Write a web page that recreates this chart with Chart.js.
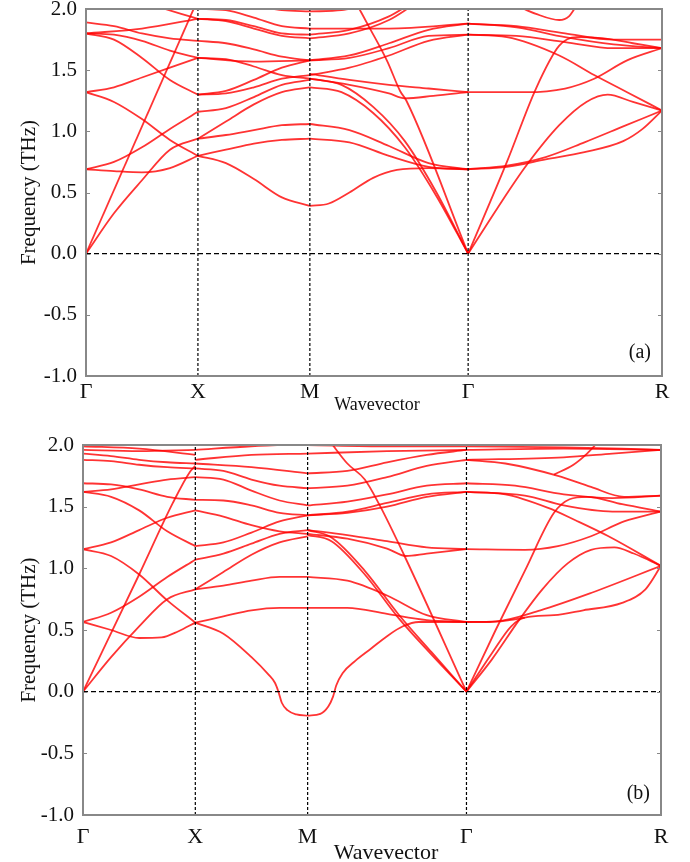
<!DOCTYPE html>
<html>
<head>
<meta charset="utf-8">
<script src="https://cdn.jsdelivr.net/npm/chart.js@4.4.1/dist/chart.umd.min.js"></script>
<style>
  html, body { margin: 0; padding: 0; background: #fff; }
  #wrap { position: relative; width: 690px; height: 862px; overflow: hidden; }
  canvas { position: absolute; left: 0; }
  #ca { top: -13px; }
  #cb { top: 423px; }
</style>
</head>
<body>
<div id="wrap">
  <canvas id="ca" width="690" height="444"></canvas>
  <canvas id="cb" width="690" height="443"></canvas>
</div>
<script>
// High-symmetry path of the cubic cell: Γ-X-M-Γ-R, segment lengths in 2π/a.
const kLabels = ['Γ', 'X', 'M', 'Γ', 'R'];
const segLen = [0.5, 0.5, 0.7071, 0.8660];
const yTicks = [-1.0, -0.5, 0.0, 0.5, 1.0, 1.5, 2.0];
const xTitle = 'Wavevector';
const yTitle = 'Frequency (THz)';

// Bands, one list per path segment. Each curve is [t, THz] with t the
// fraction along the segment (0 = segment start, 1 = segment end).
const bandsA_GX = [
  [[0, 0], [1, 2.08]],
  [[0, 0], [0.25, 0.33], [0.5, 0.6], [0.75, 0.85], [1, 0.94]],
  [[0, 0.69], [0.25, 0.675], [0.5, 0.665], [0.75, 0.7], [1, 0.8]],
  [[0, 0.69], [0.25, 0.75], [0.5, 0.87], [0.75, 1.02], [1, 1.16]],
  [[0, 1.32], [0.25, 1.24], [0.5, 1.1], [0.75, 0.93], [1, 0.8]],
  [[0, 1.32], [0.25, 1.36], [0.5, 1.44], [0.75, 1.52], [1, 1.6]],
  [[0, 1.8], [0.25, 1.75], [0.5, 1.6], [0.75, 1.42], [1, 1.3]],
  [[0, 1.8], [0.5, 1.84], [1, 1.92]],
  [[0, 1.89], [0.25, 1.86], [0.5, 1.8], [0.75, 1.76], [1, 1.74]],
  [[0, 1.8], [0.25, 1.79], [0.5, 1.74], [0.75, 1.66], [1, 1.6]],
  [[0.6, 2.03], [0.85, 1.96], [1, 1.92]],
];
const bandsA_XM = [
  [[0, 0.8], [0.25, 0.74], [0.5, 0.61], [0.75, 0.46], [1, 0.39]],
  [[0, 0.8], [0.25, 0.85], [0.5, 0.9], [0.75, 0.93], [1, 0.94]],
  [[0, 0.94], [0.25, 0.97], [0.5, 1.01], [0.75, 1.05], [1, 1.06]],
  [[0, 0.94], [0.25, 1.08], [0.5, 1.22], [0.75, 1.32], [1, 1.36]],
  [[0, 1.16], [0.25, 1.19], [0.5, 1.28], [0.75, 1.38], [1, 1.42]],
  [[0, 1.3], [0.25, 1.33], [0.5, 1.42], [0.75, 1.52], [1, 1.58]],
  [[0, 1.3], [0.25, 1.31], [0.5, 1.36], [0.75, 1.43], [1, 1.46]],
  [[0, 1.6], [0.25, 1.59], [0.5, 1.53], [0.75, 1.46], [1, 1.43]],
  [[0, 1.6], [0.5, 1.57], [1, 1.58]],
  [[0, 1.74], [0.25, 1.72], [0.5, 1.67], [0.75, 1.61], [1, 1.58]],
  [[0, 1.92], [0.25, 1.91], [0.5, 1.86], [0.75, 1.8], [1, 1.79]],
  [[0, 1.92], [0.25, 1.9], [0.5, 1.84], [0.75, 1.78], [1, 1.76]],
  [[0, 2.0], [0.25, 1.99], [0.5, 1.93], [0.75, 1.86], [1, 1.84]],
  [[0.5, 2.03], [0.75, 1.99], [1, 1.98]],
];
const bandsA_MG = [
  [[0, 0.39], [0.12, 0.41], [0.25, 0.5], [0.4, 0.62], [0.55, 0.685], [0.75, 0.7], [1, 0.69]],
  [[0, 0.94], [0.25, 0.91], [0.5, 0.8], [0.75, 0.71], [1, 0.69]],
  [[0, 1.06], [0.25, 1.01], [0.5, 0.88], [0.75, 0.74], [1, 0.69]],
  [[0, 1.43], [0.2, 1.38], [0.4, 1.2], [0.6, 0.92], [0.8, 0.5], [1, 0]],
  [[0, 1.36], [0.2, 1.32], [0.4, 1.15], [0.6, 0.87], [0.8, 0.47], [1, 0]],
  [[0.3, 2.03], [0.38, 1.84], [0.49, 1.57], [0.57, 1.33], [0.61, 1.25], [1, 0]],
  [[0, 1.47], [0.25, 1.42], [0.5, 1.38], [0.75, 1.35], [1, 1.32]],
  [[0, 1.43], [0.25, 1.38], [0.5, 1.31], [0.6, 1.27], [0.78, 1.29], [1, 1.32]],
  [[0, 1.58], [0.25, 1.6], [0.5, 1.68], [0.75, 1.78], [1, 1.79]],
  [[0, 1.58], [0.25, 1.62], [0.5, 1.72], [0.75, 1.83], [1, 1.88]],
  [[0, 1.46], [0.25, 1.52], [0.5, 1.62], [0.75, 1.74], [1, 1.79]],
  [[0, 1.84], [0.5, 1.84], [1, 1.88]],
  [[0, 1.79], [0.25, 1.83], [0.5, 1.94], [0.62, 2.03]],
  [[0, 1.76], [0.25, 1.8], [0.5, 1.91], [0.65, 2.03]],
  [[0, 1.98], [0.2, 1.99], [0.35, 2.03]],
];
const bandsA_GR = [
  [[0, 0], [0.2, 0.75], [0.35, 1.35], [0.47, 1.7], [0.56, 1.77], [0.7, 1.76], [0.85, 1.72], [1, 1.68]],
  [[0, 0], [0.15, 0.37], [0.3, 0.72], [0.47, 1.05], [0.61, 1.24], [0.72, 1.3], [0.85, 1.24], [1, 1.17]],
  [[0, 0.69], [0.2, 0.72], [0.4, 0.79], [0.6, 0.91], [0.8, 1.04], [1, 1.17]],
  [[0, 0.69], [0.2, 0.71], [0.4, 0.77], [0.6, 0.83], [0.8, 0.92], [0.9, 1.02], [1, 1.17]],
  [[0, 1.32], [0.3, 1.32], [0.5, 1.35], [0.65, 1.43], [0.82, 1.58], [1, 1.68]],
  [[0, 1.79], [0.2, 1.77], [0.47, 1.62], [0.65, 1.46], [0.82, 1.32], [1, 1.17]],
  [[0, 1.79], [0.25, 1.78], [0.5, 1.73], [0.75, 1.68], [1, 1.68]],
  [[0, 1.88], [0.25, 1.86], [0.5, 1.8], [0.75, 1.75], [1, 1.75]],
  [[0, 1.88], [0.25, 1.85], [0.5, 1.77], [0.75, 1.71], [1, 1.68]],
  [[0.25, 2.03], [0.35, 1.96], [0.47, 1.91], [0.52, 1.94], [0.56, 2.03]],
];

const bandsB_GX = [
  [[0, 0], [0.5, 0.95], [0.8, 1.53], [0.95, 1.78], [1, 1.83]],
  [[0, 0], [0.25, 0.28], [0.5, 0.53], [0.75, 0.75], [1, 0.83]],
  [[0, 0.565], [0.25, 0.64], [0.5, 0.77], [0.75, 0.93], [1, 1.07]],
  [[0, 0.565], [0.25, 0.5], [0.5, 0.435], [0.7, 0.44], [0.85, 0.49], [1, 0.56]],
  [[0, 1.155], [0.25, 1.1], [0.5, 0.95], [0.75, 0.74], [1, 0.56]],
  [[0, 1.155], [0.25, 1.21], [0.5, 1.31], [0.75, 1.41], [1, 1.47]],
  [[0, 1.62], [0.25, 1.58], [0.5, 1.47], [0.75, 1.3], [1, 1.18]],
  [[0, 1.69], [0.25, 1.68], [0.5, 1.64], [0.75, 1.58], [1, 1.555]],
  [[0, 1.62], [0.25, 1.64], [0.5, 1.68], [0.75, 1.72], [1, 1.74]],
  [[0, 1.88], [0.25, 1.87], [0.5, 1.84], [0.75, 1.82], [1, 1.81]],
  [[0, 1.93], [0.25, 1.91], [0.5, 1.88], [0.75, 1.86], [1, 1.85]],
  [[0, 1.96], [0.5, 1.95], [1, 1.96]],
  [[0, 1.99], [0.5, 1.97], [1, 1.92]],
];
const bandsB_XM = [
  [[0, 0.56], [0.25, 0.47], [0.5, 0.28], [0.65, 0.14], [0.71, 0.07], [0.74, 0], [0.77, -0.09], [0.82, -0.15], [0.9, -0.185], [1, -0.195]],
  [[0, 0.56], [0.25, 0.61], [0.5, 0.66], [0.75, 0.68], [1, 0.68]],
  [[0, 0.83], [0.25, 0.86], [0.5, 0.9], [0.75, 0.93], [1, 0.93]],
  [[0, 0.83], [0.25, 0.97], [0.5, 1.11], [0.75, 1.21], [1, 1.26]],
  [[0, 1.07], [0.25, 1.12], [0.5, 1.2], [0.75, 1.28], [1, 1.31]],
  [[0, 1.18], [0.25, 1.21], [0.5, 1.29], [0.75, 1.38], [1, 1.43]],
  [[0, 1.47], [0.25, 1.42], [0.5, 1.35], [0.75, 1.3], [1, 1.28]],
  [[0, 1.555], [0.25, 1.55], [0.5, 1.51], [0.75, 1.45], [1, 1.43]],
  [[0, 1.74], [0.25, 1.72], [0.5, 1.63], [0.75, 1.55], [1, 1.51]],
  [[0, 1.81], [0.25, 1.79], [0.5, 1.72], [0.75, 1.67], [1, 1.65]],
  [[0, 1.85], [0.5, 1.82], [1, 1.77]],
  [[0, 1.88], [0.5, 1.92], [1, 1.93]],
  [[0, 1.96], [0.5, 1.99], [1, 2.01]],
];
const bandsB_MG = [
  [[0, -0.195], [0.08, -0.18], [0.13, -0.12], [0.16, -0.04], [0.18, 0.05], [0.22, 0.15], [0.3, 0.25], [0.4, 0.35], [0.5, 0.45], [0.6, 0.53], [0.7, 0.565], [1, 0.565]],
  [[0, 0.68], [0.25, 0.68], [0.5, 0.63], [0.75, 0.58], [1, 0.565]],
  [[0, 0.93], [0.25, 0.9], [0.5, 0.78], [0.75, 0.62], [1, 0.565]],
  [[0, 1.31], [0.15, 1.25], [0.36, 0.98], [0.57, 0.63], [0.78, 0.32], [1, 0]],
  [[0, 1.27], [0.15, 1.22], [0.36, 0.95], [0.57, 0.6], [0.78, 0.3], [1, 0]],
  [[0.14, 2.03], [0.25, 1.85], [0.36, 1.72], [0.45, 1.52], [0.61, 1.1], [1, 0]],
  [[0, 1.31], [0.25, 1.27], [0.5, 1.22], [0.75, 1.17], [1, 1.155]],
  [[0, 1.28], [0.25, 1.24], [0.5, 1.16], [0.62, 1.1], [0.75, 1.12], [1, 1.155]],
  [[0, 1.51], [0.25, 1.54], [0.5, 1.6], [0.75, 1.67], [1, 1.69]],
  [[0, 1.43], [0.25, 1.46], [0.5, 1.53], [0.75, 1.6], [1, 1.62]],
  [[0, 1.43], [0.25, 1.45], [0.5, 1.5], [0.75, 1.58], [1, 1.62]],
  [[0, 1.65], [0.25, 1.67], [0.5, 1.74], [0.75, 1.83], [1, 1.88]],
  [[0, 1.77], [0.25, 1.79], [0.5, 1.86], [0.75, 1.92], [1, 1.96]],
  [[0, 1.93], [0.5, 1.95], [1, 1.96]],
  [[0, 2.0], [0.5, 1.99], [1, 1.99]],
];
const bandsB_GR = [
  [[0, 0], [0.15, 0.5], [0.3, 0.98], [0.45, 1.45], [0.53, 1.56], [0.62, 1.58], [0.8, 1.52], [1, 1.46]],
  [[0, 0], [0.13, 0.26], [0.27, 0.58], [0.39, 0.83], [0.52, 1.04], [0.64, 1.15], [0.76, 1.17], [0.86, 1.12], [1, 1.02]],
  [[0, 0], [0.13, 0.31], [0.23, 0.53], [0.3, 0.6], [0.45, 0.62], [0.6, 0.66], [0.8, 0.72], [0.92, 0.83], [1, 1.02]],
  [[0, 0.565], [0.15, 0.57], [0.38, 0.66], [0.64, 0.8], [1, 1.02]],
  [[0, 0.565], [0.12, 0.565], [0.22, 0.58], [0.3, 0.6]],
  [[0, 1.155], [0.3, 1.15], [0.47, 1.18], [0.64, 1.26], [0.81, 1.38], [1, 1.46]],
  [[0, 1.62], [0.2, 1.6], [0.42, 1.49], [0.56, 1.39], [0.73, 1.26], [1, 1.02]],
  [[0, 1.62], [0.3, 1.59], [0.5, 1.51], [0.75, 1.46], [1, 1.46]],
  [[0, 1.69], [0.25, 1.67], [0.5, 1.6], [0.75, 1.57], [1, 1.59]],
  [[0, 1.88], [0.2, 1.85], [0.47, 1.75], [0.64, 1.66], [0.81, 1.58], [1, 1.59]],
  [[0, 1.88], [0.5, 1.9], [0.75, 1.93], [1, 1.96]],
  [[0, 1.96], [0.5, 1.97], [1, 1.96]],
  [[0.45, 1.76], [0.55, 1.84], [0.62, 1.93], [0.68, 2.03]],
  [[0, 1.99], [0.5, 1.98], [0.8, 1.97], [1, 1.96]],
];

const kNodes = segLen.reduce((acc, l) => { acc.push(acc[acc.length - 1] + l); return acc; }, [0]);
const SERIF = '"Liberation Serif", "Times New Roman", serif';
const RED = 'rgba(255,0,0,0.8)';

// Gray box round the plot, short inward ticks on both sides, the panel tag
// and the x title (which sits a little right of the plot centre in the figure).
const framePlugin = {
  id: 'frame',
  afterDraw(chart, args, opts) {
    const { ctx, chartArea: a } = chart;
    const y = chart.scales.y;
    ctx.save();
    ctx.strokeStyle = '#888';
    ctx.lineWidth = 2;
    ctx.strokeRect(a.left, a.top, a.right - a.left, a.bottom - a.top);
    ctx.lineWidth = 1;
    ctx.beginPath();
    yTicks.slice(1, -1).forEach((v) => {
      const py = Math.round(y.getPixelForValue(v)) + 0.5;
      ctx.moveTo(a.left, py); ctx.lineTo(a.left + 4, py);
      ctx.moveTo(a.right - 4, py); ctx.lineTo(a.right, py);
    });
    ctx.stroke();
    ctx.fillStyle = '#111';
    ctx.font = '20px ' + SERIF;
    ctx.textAlign = 'right';
    ctx.textBaseline = 'bottom';
    ctx.fillText(opts.tag, a.right - 11, a.bottom - opts.tagLift);
    ctx.font = opts.titleSize + 'px ' + SERIF;
    ctx.textAlign = 'center';
    ctx.textBaseline = 'middle';
    ctx.fillText(xTitle, opts.titleX, opts.titleY);
    ctx.restore();
  },
};

function refLine(points, dash) {
  return {
    data: points, borderColor: '#000', borderWidth: 1.2, borderDash: dash,
    pointRadius: 0, showLine: true, fill: false, order: 0,
  };
}

function buildDatasets(segments) {
  const ds = [];
  kNodes.slice(1, 4).forEach((x) => ds.push(refLine([{ x, y: -1 }, { x, y: 2 }], [3, 2])));
  ds.push(refLine([{ x: 0, y: 0 }, { x: kNodes[4], y: 0 }], [5, 3]));
  segments.forEach((seg, s) => {
    const x0 = kNodes[s], len = segLen[s];
    seg.forEach((curve) => ds.push({
      data: curve.map(([t, f]) => ({ x: x0 + t * len, y: f })),
      borderColor: RED, borderWidth: 1.8, pointRadius: 0, showLine: true,
      cubicInterpolationMode: 'monotone', fill: false, order: 1,
    }));
  });
  return ds;
}

function drawPanel(canvasId, segments, tag, box) {
  new Chart(document.getElementById(canvasId), {
    type: 'scatter',
    data: { datasets: buildDatasets(segments) },
    plugins: [framePlugin],
    options: {
      responsive: false, animation: false, events: [],
      layout: { padding: { top: 22, right: box.right, left: 0, bottom: 0 } },
      plugins: {
        legend: { display: false }, tooltip: { enabled: false },
        frame: { tag, tagLift: box.tagLift, titleSize: box.titleSize, titleX: box.titleX, titleY: box.titleY },
      },
      scales: {
        x: {
          type: 'linear', min: 0, max: kNodes[4],
          grid: { display: false, drawTicks: false }, border: { display: false },
          afterBuildTicks: (s) => { s.ticks = kNodes.map((value) => ({ value })); },
          afterFit: (s) => { s.height = box.xh; },
          ticks: {
            autoSkip: false, maxRotation: 0, padding: box.tickPad, color: '#111',
            font: { family: SERIF, size: 22 },
            callback: (v, i) => kLabels[i],
          },
        },
        y: {
          min: -1, max: 2,
          grid: { display: false, drawTicks: false }, border: { display: false },
          afterBuildTicks: (s) => { s.ticks = yTicks.map((value) => ({ value })); },
          afterFit: (s) => { s.width = box.left; },
          ticks: {
            padding: 9, color: '#111', font: { family: SERIF, size: 21 },
            callback: (v) => v.toFixed(1),
          },
          title: {
            display: true, text: yTitle, color: '#111',
            font: { family: SERIF, size: 21 }, padding: { top: 17, bottom: 17 },
          },
        },
      },
    },
  });
}

drawPanel('ca', [bandsA_GX, bandsA_XM, bandsA_MG, bandsA_GR], '(a)',
  { right: 28, left: 86, xh: 55, tickPad: 3, titleSize: 18, titleX: 377, titleY: 418, tagLift: 13 });
drawPanel('cb', [bandsB_GX, bandsB_XM, bandsB_MG, bandsB_GR], '(b)',
  { right: 29, left: 83, xh: 51, tickPad: 9, titleSize: 22, titleX: 386, titleY: 430, tagLift: 11 });
</script>
</body>
</html>
